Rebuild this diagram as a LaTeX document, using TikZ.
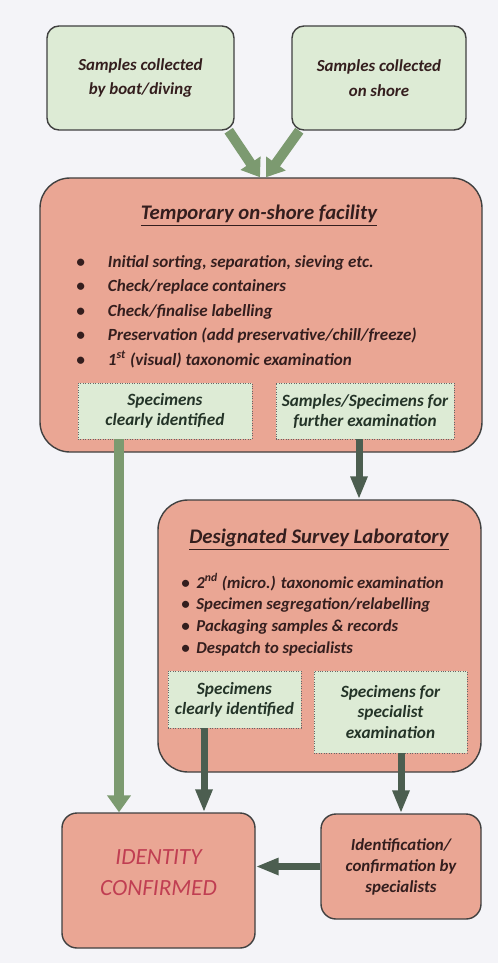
\documentclass[tikz,border=0pt]{standalone}
\usepackage{fontspec}
\setmainfont{Carlito}
\usepackage{xcolor}
\usetikzlibrary{arrows.meta}
\usetikzlibrary{positioning}
\definecolor{BgCol}{RGB}{244,244,248}
\definecolor{GreenCol}{RGB}{221,235,213}
\definecolor{RedCol}{RGB}{234,166,148}
\definecolor{ArrGreen}{RGB}{124,154,112}
\definecolor{ArrDark}{RGB}{76,94,80}
\definecolor{TxtDark}{RGB}{52,30,30}
\definecolor{TxtGreen}{RGB}{36,52,40}
\definecolor{TxtRed}{RGB}{192,62,82}
\newcommand{\MyBul}[1]{\makebox[#1][l]{\textbullet}}
\tikzset{
  MyGreen/.style={
    rectangle, rounded corners=2.4mm,
    thick, draw=black!75, fill=GreenCol,
    align=center, text=TxtDark,
    font=\fontsize{9.6}{14.2}\selectfont\bfseries\itshape,
  },
  MyRed/.style={
    rectangle, rounded corners=6mm,
    thick, draw=black!75, fill=RedCol,
  },
  MyNote/.style={
    rectangle, densely dotted, draw=black!60, fill=GreenCol,
    align=center, text=TxtGreen, inner sep=0pt,
    font=\fontsize{9.8}{11.4}\selectfont\bfseries\itshape,
  },
  MyList/.style={
    inner sep=0pt, align=left, anchor=north west, text=TxtDark,
  },
  MyTitle/.style={
    text=TxtDark, font=\fontsize{11.8}{14}\selectfont\bfseries\itshape,
  },
  MyArrow/.style={
    line width=2mm, draw=ArrGreen,
    -{Triangle[length=3.4mm,width=4.6mm]},
  },
  MyDark/.style={
    line width=1.4mm, draw=ArrDark,
    -{Triangle[length=4.6mm,width=3.2mm]},
  },
}
\begin{document}
\begin{tikzpicture}
\fill[BgCol] (0,0) rectangle (9.96,-19.26);
\useasboundingbox (0,0) rectangle (9.96,-19.26);
\node[MyGreen, minimum width=3.74cm, minimum height=2.08cm] (BOAT) at (2.81,-1.56) {Samples collected\\by boat/diving};
\node[MyGreen, minimum width=3.48cm, minimum height=2.08cm] (SHORE) at (7.58,-1.56) {Samples collected\\on shore};
\node[MyRed, minimum width=8.84cm, minimum height=5.48cm] (FAC) at (5.22,-6.30) {};
\node[MyTitle] (FACT) at (5.18,-4.32) {\underline{Temporary on-shore facility}};
\node[MyList, font=\fontsize{9.7}{13.9}\selectfont\bfseries\itshape] (FACL) at (1.52,-5.10) {%
\MyBul{18pt}Initial sorting, separation, sieving etc.\\
\MyBul{18pt}Check/replace containers\\
\MyBul{18pt}Check/finalise labelling\\
\MyBul{18pt}Preservation (add preservative/chill/freeze)\\
\MyBul{18pt}1\textsuperscript{st} (visual) taxonomic examination};
\node[MyNote, minimum width=3.48cm, minimum height=1.12cm] (FACA) at (3.30,-8.22) {Specimens\\clearly identified};
\node[MyNote, minimum width=3.56cm, minimum height=1.12cm] (FACB) at (7.30,-8.22) {Samples/Specimens for\\further examination};
\node[MyRed, minimum width=6.46cm, minimum height=5.44cm] (LAB) at (6.39,-12.72) {};
\node[MyTitle] (LABT) at (6.38,-10.80) {\underline{Designated Survey Laboratory}};
\node[MyList, font=\fontsize{9.5}{12.3}\selectfont\bfseries\itshape] (LABL) at (3.62,-11.46) {%
\MyBul{8.6pt}2\textsuperscript{nd} (micro.) taxonomic examination\\
\MyBul{8.6pt}Specimen segregation/relabelling\\
\MyBul{8.6pt}Packaging samples \& records\\
\MyBul{8.6pt}Despatch to specialists};
\node[MyNote, minimum width=2.66cm, minimum height=1.14cm] (LABA) at (4.69,-13.99) {Specimens\\clearly identified};
\node[MyNote, minimum width=3.06cm, minimum height=1.64cm] (LABB) at (7.81,-14.24) {Specimens for\\specialist\\examination};
\node[MyRed, rounded corners=3mm, minimum width=3.86cm, minimum height=2.70cm, align=center, text=TxtRed, font=\fontsize{13.2}{17.6}\selectfont\itshape] (ID) at (3.17,-17.61) {IDENTITY\\CONFIRMED\\[-8.5pt]};
\node[MyRed, rounded corners=3mm, minimum width=3.20cm, minimum height=2.10cm, align=center, text=TxtDark, font=\fontsize{9.6}{12}\selectfont\bfseries\itshape] (SPEC) at (8.02,-17.33) {Identification/\\confirmation by\\specialists};
\draw[MyArrow] ([xshift=-0.12cm]BOAT.south east) to ([xshift=-0.02cm]FAC.north);
\draw[MyArrow] ([xshift=0.16cm]SHORE.south west) to ([xshift=0.1cm]FAC.north);
\draw[MyArrow] ([xshift=-0.92cm]FACA.south) to ([xshift=-0.92cm]FACA.south |- ID.north);
\draw[MyDark] ([xshift=-0.12cm]FACB.south) to ([xshift=-0.12cm]FACB.south |- LAB.north);
\draw[MyDark] ([xshift=-0.61cm]LABA.south) to ([xshift=-0.61cm]LABA.south |- ID.north);
\draw[MyDark] (SPEC.north |- LABB.south) to (SPEC.north);
\draw[MyDark] (SPEC.west) to (ID.east |- SPEC.west);
\end{tikzpicture}
\end{document}
